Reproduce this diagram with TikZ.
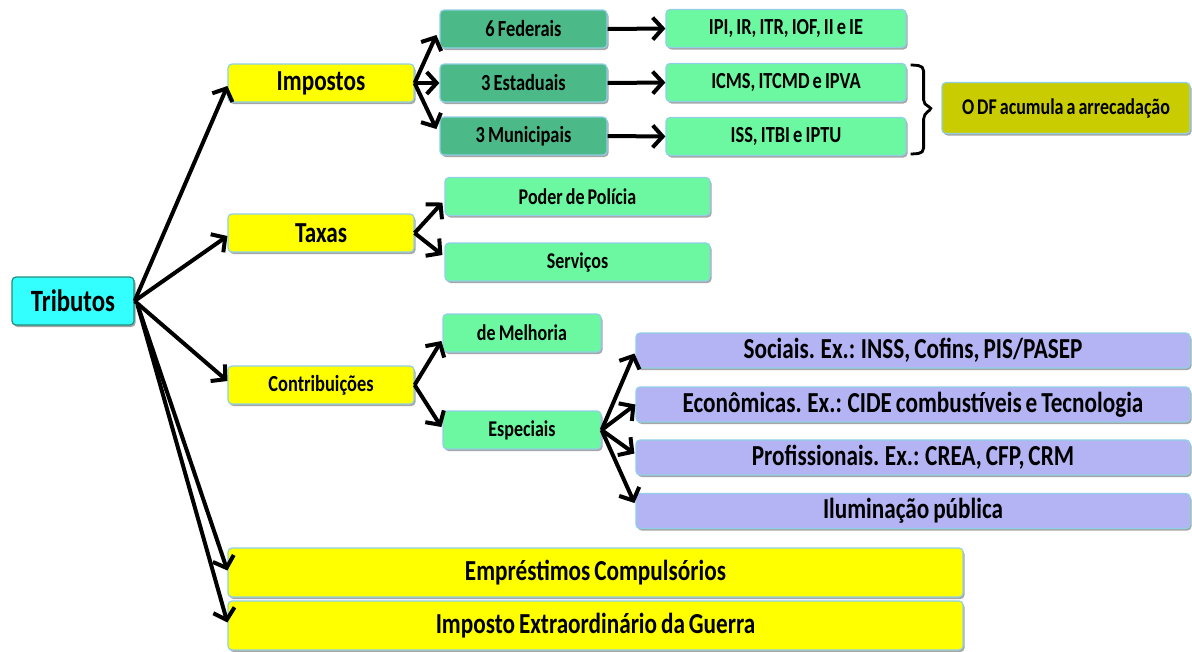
\documentclass[tikz,border=0pt]{standalone}
\usepackage{fontspec}
\setmainfont{Carlito}[FakeStretch=0.8, WordSpace=0.75]
\usetikzlibrary{arrows.meta,shadows,calc}

\definecolor{cyanbox}{HTML}{33FFFF}
\definecolor{tealborder}{HTML}{1F8F7A}
\definecolor{ylw}{HTML}{FFFF00}
\definecolor{boxborder}{HTML}{8FD0E6}
\definecolor{dkgreen}{HTML}{4CBA88}
\definecolor{ltgreen}{HTML}{6CF8A0}
\definecolor{olivebox}{HTML}{C9CC00}
\definecolor{lav}{HTML}{B4B4F4}

\tikzset{
  box/.style={rectangle, rounded corners=4pt, draw=boxborder, line width=1.2pt,
    inner sep=0pt, text=black,
    drop shadow={shadow xshift=1.5pt, shadow yshift=-2pt, opacity=0.35, fill=black}},
  fs/.style={font=\fontsize{#1}{#1}\selectfont\bfseries},
  trib/.style={box, fill=cyanbox, draw=tealborder, minimum width=122pt, minimum height=48pt, fs=31},
  ybox/.style={box, fill=ylw, minimum width=186pt, minimum height=38pt},
  dgbox/.style={box, fill=dkgreen, minimum width=167pt, minimum height=38pt, fs=23},
  lgbox/.style={box, fill=ltgreen, minimum width=240pt, minimum height=38pt, fs=23},
  taxbox/.style={box, fill=ltgreen, minimum width=265pt, minimum height=38pt, fs=22.5},
  contbox/.style={box, fill=ltgreen, minimum width=158pt, minimum height=38pt, fs=22.5},
  lavbox/.style={box, fill=lav, minimum width=554pt, minimum height=35pt, fs=29},
  bigy/.style={box, fill=ylw, minimum width=735pt, minimum height=49pt, fs=29},
  dfbox/.style={box, fill=olivebox, minimum width=248pt, minimum height=51pt, fs=22.5},
  arr/.style={line width=4pt, -{Straight Barb[length=10pt,width=22pt]}},
  bracestyle/.style={line width=2.8pt, rounded corners=5pt},
}

\begin{document}
\begin{tikzpicture}[x=1pt,y=-1pt]
\useasboundingbox (0,0) rectangle (1192,651);

% level 0
\node[trib] (tri) at (73,301) {Tributos};

% level 1
\node[ybox, fs=29] (imp) at (321,83) {Impostos};
\node[ybox, fs=29] (tax) at (321,233) {Taxas};
\node[ybox, fs=23] (con) at (321,385) {Contribuições};
\node[bigy] (emp) at (595.5,572.5) {Empréstimos Compulsórios};
\node[bigy] (ieg) at (595.5,625.5) {Imposto Extraordinário da Guerra};

% impostos
\node[dgbox] (fed) at (523.5,29) {6 Federais};
\node[dgbox] (est) at (523.5,83) {3 Estaduais};
\node[dgbox] (mun) at (523.5,136) {3 Municipais};
\node[lgbox] (ipi) at (786,28.5) {IPI, IR, ITR, IOF, II e IE};
\node[lgbox] (icms) at (786,82.5) {ICMS, ITCMD e IPVA};
\node[lgbox] (iss) at (786,136.5) {ISS, ITBI e IPTU};
\node[dfbox] (df) at (1066,108) {O DF acumula a arrecadação};

% taxas
\node[taxbox] (pod) at (577.5,196.5) {Poder de Polícia};
\node[taxbox] (ser) at (577.5,262) {Serviços};

% contribuicoes
\node[contbox] (mel) at (522,333) {de Melhoria};
\node[contbox] (esp) at (522,430) {Especiais};
\node[lavbox] (soc) at (913,350.5) {Sociais. Ex.: INSS, Cofins, PIS/PASEP};
\node[lavbox] (eco) at (913,404.5) {Econômicas. Ex.: CIDE combustíveis e Tecnologia};
\node[lavbox] (pro) at (913,457.5) {Profissionais. Ex.: CREA, CFP, CRM};
\node[lavbox] (ilu) at (913,511) {Iluminação pública};

% connectors
\draw[arr] (tri.east) -- ($(imp.west)+(0,3)$);
\draw[arr] (tri.east) -- ($(tax.west)+(0,3)$);
\draw[arr] (tri.east) -- ($(con.west)+(0,-4)$);
\draw[arr] ($(tri.east)+(3,4)$) -- ($(emp.west)+(0,-2)$);
\draw[arr] ($(tri.east)+(3,4)$) -- ($(ieg.west)+(0,-3)$);

\draw[arr] (imp.east) -- ($(fed.west)+(-3,6)$);
\draw[arr] (imp.east) -- (est.west);
\draw[arr] (imp.east) -- ($(mun.west)+(-3,-7)$);
\draw[arr] (fed.east) -- (ipi.west);
\draw[arr] (est.east) -- (icms.west);
\draw[arr] (mun.east) -- (iss.west);

\draw[arr] (tax.east) -- ($(pod.west)+(-2,6)$);
\draw[arr] (tax.east) -- ($(ser.west)+(-2,-7)$);

\draw[arr] (con.east) -- ($(mel.west)+(-1,8)$);
\draw[arr] (con.east) -- ($(esp.west)+(-1,-3)$);

\draw[arr] (esp.east) -- ($(soc.west)+(-1,3)$);
\draw[arr] (esp.east) -- (eco.west);
\draw[arr] (esp.east) -- ($(pro.west)+(-1,-4)$);
\draw[arr] (esp.east) -- ($(ilu.west)+(-1,-8)$);

% brace
\coordinate (b1) at ($(icms.north east)+(4,2)$);
\coordinate (b2) at ($(iss.south east)+(4,-2)$);
\coordinate (bx) at ($(df.west)+(-5,0)$);
\draw[bracestyle] (b1) -- ($(b1)+(13,1)$) -- ($(b1)+(13,40)$) -- ($(bx)+(-3,0)$) -- ($(b2)+(13,-40)$) -- ($(b2)+(13,-1)$) -- (b2);
\end{tikzpicture}
\end{document}
